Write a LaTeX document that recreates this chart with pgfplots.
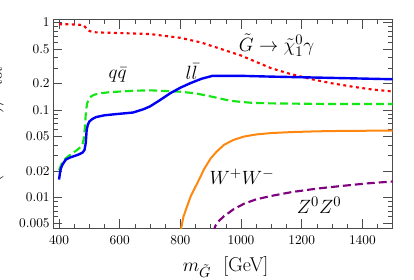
\documentclass[border=0pt]{standalone}
\usepackage{pgfplots}
\pgfplotsset{compat=1.18}
\definecolor{cred}{RGB}{255,0,0}
\definecolor{cgreen}{RGB}{20,230,20}
\definecolor{cblue}{RGB}{0,0,245}
\definecolor{corange}{RGB}{255,135,15}
\definecolor{cpurple}{RGB}{128,0,128}
\begin{document}
\begin{tikzpicture}
\begin{axis}[
  at={(0,0)}, anchor=south west,
  scale only axis, width=254.8pt, height=156.8pt,
  xmin=380, xmax=1500, ymode=log, ymin=0.00443, ymax=1.094,
  xtick={400,600,800,1000,1200,1400},
  xticklabels={$400$,$600$,$800$,$1000$,$1200$,$1400$},
  minor xtick={450,500,550,650,700,750,850,900,950,1050,1100,1150,1250,1300,1350,1450},
  ytick={0.005,0.01,0.02,0.05,0.1,0.2,0.5,1},
  yticklabels={$0.005$,$0.01$,$0.02$,$0.05$,$0.1$,$0.2$,$0.5$,$1$},
  minor ytick={0.006,0.007,0.008,0.009,0.03,0.04,0.06,0.07,0.08,0.09,0.3,0.4,0.6,0.7,0.8,0.9},
  tick align=inside, major tick length=7pt, minor tick length=3.5pt,
  axis line style={black!70}, every tick/.style={black!70},
  xticklabel style={yshift=-2pt},
  yticklabel style={xshift=1pt},
  xlabel={$m_{\tilde G}$\ \ [GeV]},
  xlabel style={font=\fontsize{15}{18}\selectfont, at={(axis description cs:0.508,0)}, anchor=center, yshift=-29pt},
  ylabel={$\Gamma(\tilde G\to X)/\Gamma_{\rm tot}$},
  ylabel style={font=\fontsize{15}{18}\selectfont, at={(axis description cs:-0.131,0.47)}, anchor=south},
]
% red dotted: G -> chi gamma
\addplot[color=cred, line width=1.6pt, dash pattern=on 2.2pt off 2.6pt] coordinates {
(400,0.96) (440,0.955) (480,0.94) (490,0.86) (500,0.80) (520,0.775) (550,0.768) (600,0.76) (700,0.74) (800,0.67) (870,0.59) (933,0.50) (1000,0.42) (1050,0.355) (1100,0.30) (1160,0.26) (1233,0.225) (1300,0.202) (1367,0.185) (1430,0.172) (1500,0.163)
};
% green dashed: q qbar
\addplot[color=cgreen, line width=1.6pt, dash pattern=on 6pt off 3pt] coordinates {
(400,0.0205) (408,0.024) (417,0.027) (430,0.0295) (444,0.032) (460,0.035) (476,0.039) (481,0.046) (485,0.062) (489,0.1) (493,0.12) (498,0.134) (507,0.144) (517,0.15) (540,0.156) (567,0.16) (644,0.166) (700,0.168) (800,0.162) (850,0.155) (900,0.143) (967,0.127) (1033,0.121) (1100,0.119) (1300,0.117) (1500,0.117)
};
% blue solid: l lbar
\addplot[color=cblue, line width=1.8pt] coordinates {
(400,0.016) (403,0.019) (406,0.0215) (412,0.024) (422,0.027) (435,0.0285) (450,0.0297) (465,0.031) (478,0.0327) (484,0.035) (488,0.042) (491,0.059) (495,0.068) (500,0.074) (510,0.079) (522,0.083) (550,0.087) (589,0.0898) (644,0.0936) (678,0.102) (700,0.11) (733,0.13) (767,0.156) (800,0.18) (833,0.203) (870,0.228) (906,0.246) (1000,0.246) (1100,0.241) (1300,0.233) (1500,0.225)
};
% orange solid: W+W-
\addplot[color=corange, line width=1.5pt] coordinates {
(800,0.003) (803,0.0045) (810,0.006) (822,0.0079) (835,0.0105) (856,0.0146) (878,0.021) (900,0.028) (920,0.0335) (944,0.04) (975,0.0455) (1011,0.0498) (1050,0.0525) (1100,0.0545) (1167,0.0559) (1250,0.057) (1350,0.0578) (1500,0.058)
};
% purple dashed: Z0Z0
\addplot[color=cpurple, line width=1.6pt, dash pattern=on 6pt off 3pt] coordinates {
(909,0.004) (915,0.0047) (925,0.0053) (944,0.0061) (975,0.0073) (1011,0.0085) (1050,0.0095) (1100,0.0104) (1167,0.0115) (1250,0.0126) (1330,0.0135) (1420,0.0145) (1500,0.0152)
};
\node[font=\fontsize{15.5}{18}\selectfont] at (axis cs:1117,0.556) {$\tilde G\to\tilde\chi^0_1\gamma$};
\node[font=\fontsize{15.5}{18}\selectfont] at (axis cs:593,0.252) {$q\bar q$};
\node[font=\fontsize{15.5}{18}\selectfont] at (axis cs:837,0.277) {$l\bar l$};
\node[font=\fontsize{15.5}{18}\selectfont] at (axis cs:1003,0.0172) {$W^+W^-$};
\node[font=\fontsize{15.5}{18}\selectfont] at (axis cs:1257,0.0082) {$Z^0Z^0$};
\end{axis}
\pgfresetboundingbox
\useasboundingbox (-39.75pt,-38.78pt) rectangle (270.75pt,171.2pt);
\end{tikzpicture}
\end{document}
